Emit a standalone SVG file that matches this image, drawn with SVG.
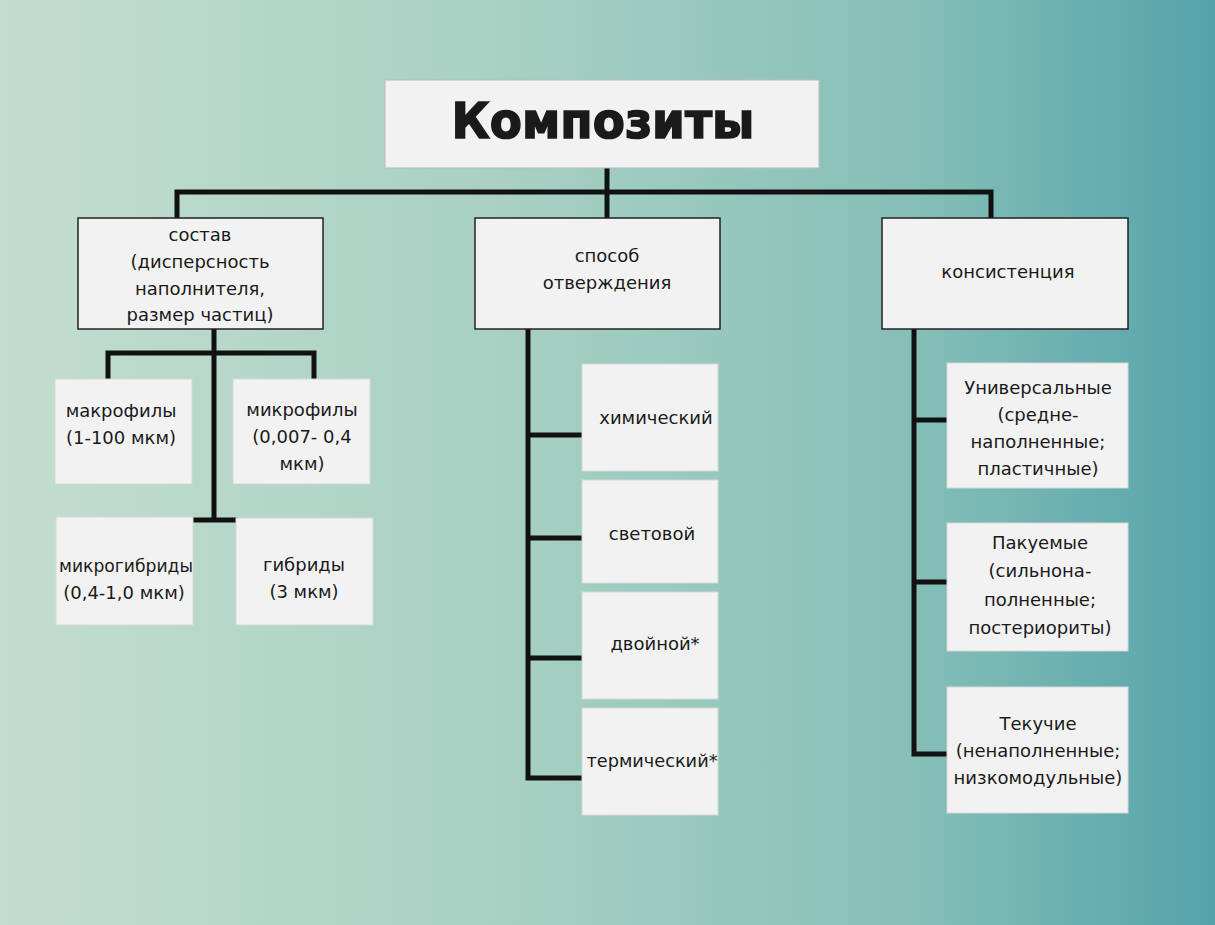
<svg xmlns="http://www.w3.org/2000/svg" width="1215" height="925" viewBox="0 0 1215 925">
<defs>
<linearGradient id="bg" x1="0" y1="0" x2="1" y2="0">
<stop offset="0" stop-color="#c3decf"/>
<stop offset="0.45" stop-color="#a5cfc2"/>
<stop offset="0.75" stop-color="#86bfb8"/>
<stop offset="1" stop-color="#55a3aa"/>
</linearGradient>
<style>
.t{font-family:"DejaVu Sans","Noto Sans",sans-serif;font-size:18px;fill:#1a1a1a;text-anchor:middle}
.title{font-family:"DejaVu Sans","Liberation Sans",sans-serif;font-size:50px;font-weight:900;fill:#1a1a1a;stroke:#1a1a1a;stroke-width:1.6;text-anchor:middle}
.hb{fill:#f2f2f2;stroke:#222;stroke-width:1.5}
.tb{fill:#f2f2f2;stroke:#bbb;stroke-width:1}
.sb{fill:#f2f2f2;stroke:#d8d8d8;stroke-width:1}
.c{fill:none;stroke:#111;stroke-width:5;stroke-linecap:square}
</style>
</defs>
<rect width="1215" height="925" fill="url(#bg)"/>
<g id="connectors">
<path class="c" d="M607 168V192M177 218V192H991V218M607 192V218"/>
<path class="c" d="M214 329V520M108 379V353H314V379M193 520H235"/>
<path class="c" d="M528 329V778H582M528 435H582M528 538H582M528 658H582"/>
<path class="c" d="M914 329V754H947M914 420H947M914 582H947"/>
</g>
<g id="root"><rect class="tb" x="385" y="80" width="434" height="88"/><text class="title" x="603" y="138" textLength="303" lengthAdjust="spacingAndGlyphs">Композиты</text></g>
<g id="sostav"><rect class="hb" x="78" y="218" width="245" height="111"/>
<text class="t" x="200" y="241">состав</text><text class="t" x="200" y="268">(дисперсность</text><text class="t" x="200" y="295">наполнителя,</text><text class="t" x="200" y="321">размер частиц)</text></g>
<g id="sposob"><rect class="hb" x="475" y="218" width="245" height="111"/>
<text class="t" x="607" y="262">способ</text><text class="t" x="607" y="289">отверждения</text></g>
<g id="konsist"><rect class="hb" x="882" y="218" width="246" height="111"/>
<text class="t" x="1008" y="278">консистенция</text></g>
<g id="makro"><rect class="sb" x="55" y="379" width="137" height="105"/>
<text class="t" x="121" y="417">макрофилы</text><text class="t" x="121" y="444">(1-100 мкм)</text></g>
<g id="mikro"><rect class="sb" x="233" y="379" width="137" height="105"/>
<text class="t" x="302" y="416">микрофилы</text><text class="t" x="302" y="443">(0,007- 0,4</text><text class="t" x="302" y="470">мкм)</text></g>
<g id="mikrogib"><rect class="sb" x="56" y="517" width="137" height="108"/>
<text class="t" x="126" y="572" textLength="134" lengthAdjust="spacingAndGlyphs">микрогибриды</text><text class="t" x="124" y="599">(0,4-1,0 мкм)</text></g>
<g id="gib"><rect class="sb" x="236" y="518" width="137" height="107"/>
<text class="t" x="304" y="571">гибриды</text><text class="t" x="304" y="598">(3 мкм)</text></g>
<g id="him"><rect class="sb" x="582" y="364" width="136" height="107"/><text class="t" x="656" y="424">химический</text></g>
<g id="svet"><rect class="sb" x="582" y="480" width="136" height="103"/><text class="t" x="652" y="540">световой</text></g>
<g id="dvoi"><rect class="sb" x="582" y="592" width="136" height="107"/><text class="t" x="655" y="650">двойной*</text></g>
<g id="term"><rect class="sb" x="582" y="708" width="136" height="107"/><text class="t" x="652" y="767" textLength="131" lengthAdjust="spacingAndGlyphs">термический*</text></g>
<g id="univ"><rect class="sb" x="947" y="363" width="181" height="125"/>
<text class="t" x="1038" y="394">Универсальные</text><text class="t" x="1038" y="421">(средне-</text><text class="t" x="1038" y="448">наполненные;</text><text class="t" x="1038" y="475">пластичные)</text></g>
<g id="pak"><rect class="sb" x="947" y="523" width="181" height="128"/>
<text class="t" x="1040" y="549">Пакуемые</text><text class="t" x="1040" y="577">(сильнона-</text><text class="t" x="1040" y="606">полненные;</text><text class="t" x="1040" y="634">постериориты)</text></g>
<g id="tek"><rect class="sb" x="947" y="687" width="181" height="126"/>
<text class="t" x="1038" y="730">Текучие</text><text class="t" x="1038" y="757">(ненаполненные;</text><text class="t" x="1038" y="784">низкомодульные)</text></g>
</svg>
